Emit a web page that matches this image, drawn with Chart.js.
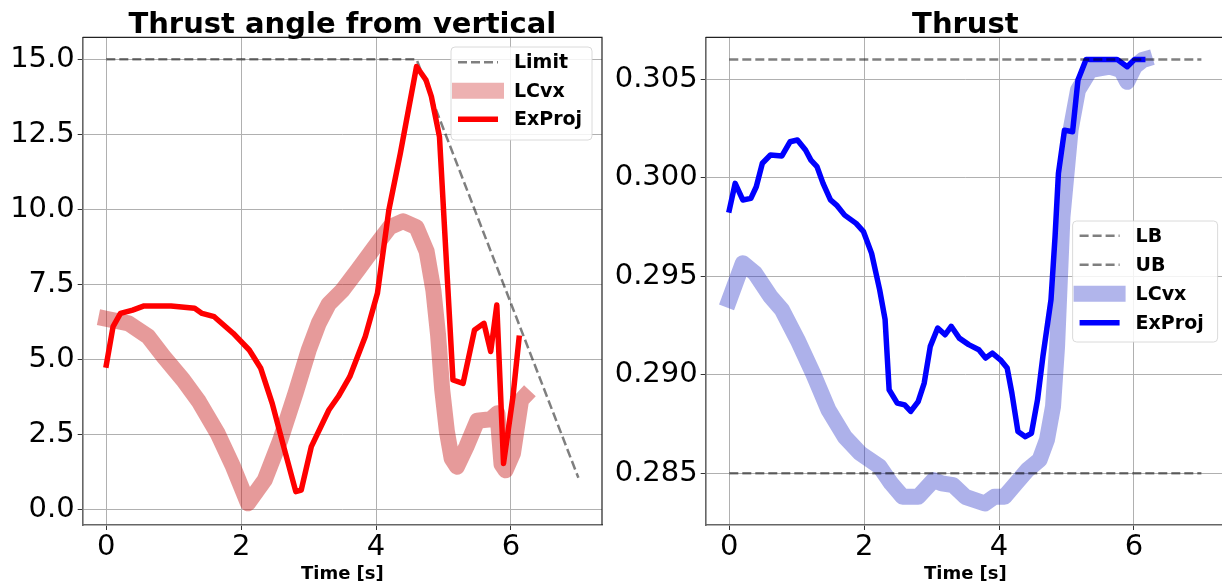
<!DOCTYPE html>
<html>
<head>
<meta charset="utf-8">
<script src="https://cdn.jsdelivr.net/npm/chart.js@4.4.1/dist/chart.umd.min.js"></script>
<style>
    html, body { margin: 0; padding: 0; background: #ffffff; overflow: hidden; }
    body { width: 1222px; height: 586px; position: relative; }
    .panel { position: absolute; top: 0; height: 586px; }
    #angle-panel { left: 0; width: 610px; }
    #thrust-panel { left: 610px; width: 620px; }
</style>
</head>
<body>
<div class="panel" id="angle-panel"><canvas id="angle"></canvas></div>
<div class="panel" id="thrust-panel"><canvas id="thrust"></canvas></div>
<script>
// values
const timeTicks = [0, 2, 4, 6];
const angleTicks = [0, 2.5, 5, 7.5, 10, 12.5, 15];
const thrustTicks = [0.285, 0.29, 0.295, 0.3, 0.305];

const limitTime = [0, 4.6, 7.0];
const limitAngle = [15, 15, 1.05];

const angleLcvxTime = [0, 0.33, 0.62, 0.85, 1.14, 1.37, 1.65, 1.88, 2.1, 2.35, 2.58, 2.81, 3.0, 3.15, 3.3, 3.5, 3.73, 4.02, 4.2, 4.4, 4.6, 4.75, 4.85, 4.92, 4.98, 5.05, 5.12, 5.2, 5.34, 5.5, 5.7, 5.8, 5.86, 5.92, 6.03, 6.15, 6.2];
const angleLcvx = [6.35, 6.2, 5.76, 5.09, 4.31, 3.6, 2.53, 1.42, 0.2, 0.98, 2.31, 3.9, 5.3, 6.2, 6.85, 7.3, 7.98, 8.87, 9.4, 9.6, 9.4, 8.6, 7.3, 5.8, 4.0, 2.6, 1.7, 1.42, 2.09, 2.95, 3.0, 3.2, 1.5, 1.3, 1.87, 3.64, 3.76];

const angleExprojTime = [0, 0.1, 0.21, 0.39, 0.56, 0.96, 1.31, 1.42, 1.6, 1.88, 2.12, 2.29, 2.46, 2.63, 2.81, 2.89, 3.04, 3.3, 3.44, 3.61, 3.84, 4.02, 4.19, 4.36, 4.6, 4.74, 4.82, 4.94, 5.14, 5.29, 5.46, 5.6, 5.7, 5.79, 5.89, 6.03, 6.12];
const angleExproj = [4.81, 6.09, 6.53, 6.64, 6.78, 6.78, 6.7, 6.53, 6.42, 5.87, 5.31, 4.7, 3.53, 2.09, 0.59, 0.64, 2.09, 3.31, 3.76, 4.42, 5.76, 7.2, 9.98, 11.87, 14.76, 14.31, 13.76, 12.42, 4.31, 4.2, 5.98, 6.2, 5.26, 6.81, 1.53, 3.76, 5.7];

const boundTime = [0, 7.0];
const lowerBound = [0.285, 0.285];
const upperBound = [0.306, 0.306];

const thrustLcvxTime = [0, 0.2, 0.38, 0.61, 0.78, 1.01, 1.24, 1.47, 1.71, 1.94, 2.23, 2.4, 2.57, 2.8, 3.03, 3.15, 3.32, 3.5, 3.79, 3.93, 4.08, 4.25, 4.42, 4.6, 4.71, 4.8, 4.86, 4.94, 5.06, 5.17, 5.35, 5.64, 5.81, 5.9, 6.01, 6.13, 6.16];
const thrustLcvx = [0.2938, 0.29566, 0.29515, 0.29397, 0.2933, 0.29178, 0.29008, 0.28822, 0.28686, 0.28602, 0.28534, 0.28449, 0.28381, 0.28381, 0.28466, 0.28449, 0.2844, 0.28381, 0.28347, 0.28381, 0.28381, 0.28449, 0.28517, 0.28568, 0.2867, 0.28839, 0.29144, 0.29802, 0.30241, 0.30444, 0.30546, 0.30563, 0.30546, 0.30486, 0.30563, 0.30597, 0.306];

const thrustExprojTime = [0, 0.087, 0.2, 0.32, 0.4, 0.49, 0.61, 0.78, 0.9, 1.01, 1.13, 1.21, 1.3, 1.39, 1.5, 1.59, 1.71, 1.88, 1.99, 2.11, 2.23, 2.31, 2.37, 2.49, 2.6, 2.69, 2.8, 2.89, 2.98, 3.09, 3.2, 3.29, 3.41, 3.55, 3.7, 3.8, 3.9, 4.02, 4.12, 4.19, 4.28, 4.39, 4.48, 4.57, 4.65, 4.77, 4.83, 4.88, 4.97, 5.09, 5.17, 5.29, 5.75, 5.9, 6.01, 6.13];
const thrustExproj = [0.29836, 0.29971, 0.29887, 0.29895, 0.29954, 0.30073, 0.30115, 0.3011, 0.30182, 0.30191, 0.3014, 0.30089, 0.30056, 0.29971, 0.29887, 0.29861, 0.2981, 0.29768, 0.29726, 0.29616, 0.2943, 0.2928, 0.28924, 0.28856, 0.28847, 0.28814, 0.28864, 0.28958, 0.29144, 0.29237, 0.29203, 0.29246, 0.29186, 0.29153, 0.29127, 0.29085, 0.2911, 0.29076, 0.29034, 0.28907, 0.28712, 0.28686, 0.28703, 0.28873, 0.29093, 0.29381, 0.297, 0.30022, 0.30241, 0.30233, 0.30495, 0.306, 0.306, 0.30563, 0.306, 0.306];

const FONT = "'DejaVu Sans', sans-serif";
const pairs = (xs, ys) => xs.map((x, i) => ({ x, y: ys[i] }));

const dashed = (label, xs, ys) => ({
    label,
    data: pairs(xs, ys),
    borderColor: 'rgba(0, 0, 0, 0.5)',
    borderWidth: 2.5,
    borderDash: [9, 4],
    borderCapStyle: 'butt',
    pointRadius: 0,
    fill: false,
    tension: 0,
});

const solid = (label, xs, ys, color, width, legendColor) => ({
    label,
    data: pairs(xs, ys),
    borderColor: color,
    legendColor: legendColor || color,
    borderWidth: width,
    borderCapStyle: 'square',
    borderJoinStyle: 'round',
    pointRadius: 0,
    fill: false,
    tension: 0,
});

// title, frame top/right and matplotlib style legend
const decorations = {
    id: 'decorations',
    afterDatasetsDraw(chart, args, opts) {
        const { ctx, chartArea: a } = chart;
        ctx.save();
        ctx.strokeStyle = '#222';
        ctx.lineWidth = 1.2;
        ctx.beginPath();
        ctx.moveTo(a.left, a.top);
        ctx.lineTo(a.right, a.top);
        ctx.lineTo(a.right, a.bottom);
        ctx.stroke();

        ctx.fillStyle = '#000';
        ctx.font = `bold 29px ${FONT}`;
        ctx.textAlign = 'center';
        ctx.textBaseline = 'alphabetic';
        ctx.fillText(opts.title, (a.left + a.right) / 2, 33);

        const lg = opts.legend;
        ctx.globalAlpha = 0.85;
        ctx.fillStyle = '#fff';
        ctx.strokeStyle = '#d4d4d4';
        ctx.lineWidth = 1;
        ctx.beginPath();
        ctx.roundRect(lg.x, lg.y, lg.w, lg.h, 4);
        ctx.fill();
        ctx.stroke();
        ctx.globalAlpha = 1;

        opts.legendOrder.forEach((di, k) => {
            const ds = chart.data.datasets[di];
            const y = lg.first + k * lg.step;
            const ext = ds.borderWidth > 8 ? 6 : 0;
            ctx.save();
            ctx.strokeStyle = ds.legendColor || ds.borderColor;
            ctx.lineWidth = ds.borderWidth;
            ctx.lineCap = 'butt';
            ctx.setLineDash(ds.borderDash || []);
            ctx.beginPath();
            ctx.moveTo(lg.x + 7 - ext, y);
            ctx.lineTo(lg.x + 47 + ext, y);
            ctx.stroke();
            ctx.restore();
            ctx.fillStyle = '#000';
            ctx.font = `bold 19px ${FONT}`;
            ctx.textAlign = 'left';
            ctx.textBaseline = 'middle';
            ctx.fillText(ds.label, lg.x + 63, y + 1);
        });
        ctx.restore();
    },
};

const axisOptions = (yMin, yMax, yTickValues, yDigits, yWidth) => ({
    x: {
        type: 'linear',
        min: -0.35,
        max: 7.35,
        afterBuildTicks: (s) => { s.ticks = timeTicks.map((v) => ({ value: v })); },
        afterFit: (s) => { s.height = 61; },
        ticks: {
            color: '#000',
            font: { family: FONT, size: 29 },
            padding: 0,
            maxRotation: 0,
            callback: (v) => String(v),
        },
        grid: { color: '#b0b0b0', lineWidth: 1, tickColor: '#333', tickLength: 5 },
        border: { color: '#666', width: 1.6 },
    },
    y: {
        type: 'linear',
        min: yMin,
        max: yMax,
        afterBuildTicks: (s) => { s.ticks = yTickValues.map((v) => ({ value: v })); },
        afterFit: (s) => { s.width = yWidth; },
        ticks: {
            color: '#000',
            font: { family: FONT, size: 29 },
            padding: 3,
            callback: (v) => Number(v).toFixed(yDigits),
        },
        grid: { color: '#b0b0b0', lineWidth: 1, tickColor: '#333', tickLength: 5 },
        border: { color: '#666', width: 1.6 },
    },
});

const xLabel = {
    id: 'xLabel',
    afterDraw(chart) {
        const { ctx, chartArea: a } = chart;
        ctx.save();
        ctx.fillStyle = '#000';
        ctx.font = `bold 18px ${FONT}`;
        ctx.textAlign = 'center';
        ctx.textBaseline = 'alphabetic';
        ctx.fillText('Time [s]', (a.left + a.right) / 2, 579);
        ctx.restore();
    },
};

const baseOptions = {
    responsive: true,
    maintainAspectRatio: false,
    animation: false,
    events: [],
};

new Chart(document.getElementById('angle'), {
    type: 'line',
    data: {
        datasets: [
            solid('ExProj', angleExprojTime, angleExproj, '#ff0000', 5.5),
            solid('LCvx', angleLcvxTime, angleLcvx, 'rgba(200, 30, 30, 0.45)', 16, 'rgba(205, 40, 40, 0.36)'),
            dashed('Limit', limitTime, limitAngle),
        ],
    },
    options: {
        ...baseOptions,
        layout: { padding: { top: 37.3, right: 8, left: 0, bottom: 0 } },
        scales: axisOptions(-0.523, 15.733, angleTicks, 1, 82.7),
        plugins: {
            legend: { display: false },
            tooltip: { enabled: false },
            decorations: {
                title: 'Thrust angle from vertical',
                legend: { x: 451, y: 47, w: 141, h: 93, first: 62.3, step: 28.5 },
                legendOrder: [2, 1, 0],
            },
        },
    },
    plugins: [decorations, xLabel],
});

new Chart(document.getElementById('thrust'), {
    type: 'line',
    data: {
        datasets: [
            dashed('LB', boundTime, lowerBound),
            dashed('UB', boundTime, upperBound),
            solid('ExProj', thrustExprojTime, thrustExproj, '#0000ff', 5.5),
            solid('LCvx', thrustLcvxTime, thrustLcvx, 'rgba(40, 50, 200, 0.38)', 16, 'rgba(40, 50, 200, 0.36)'),
        ],
    },
    options: {
        ...baseOptions,
        layout: { padding: { top: 37.3, right: 5, left: 0, bottom: 0 } },
        scales: axisOptions(0.28238, 0.30712, thrustTicks, 3, 95.7),
        plugins: {
            legend: { display: false },
            tooltip: { enabled: false },
            decorations: {
                title: 'Thrust',
                legend: { x: 1072.6 - 610, y: 221, w: 145, h: 121, first: 235.7, step: 29 },
                legendOrder: [0, 1, 3, 2],
            },
        },
    },
    plugins: [decorations, xLabel],
});
</script>
</body>
</html>
